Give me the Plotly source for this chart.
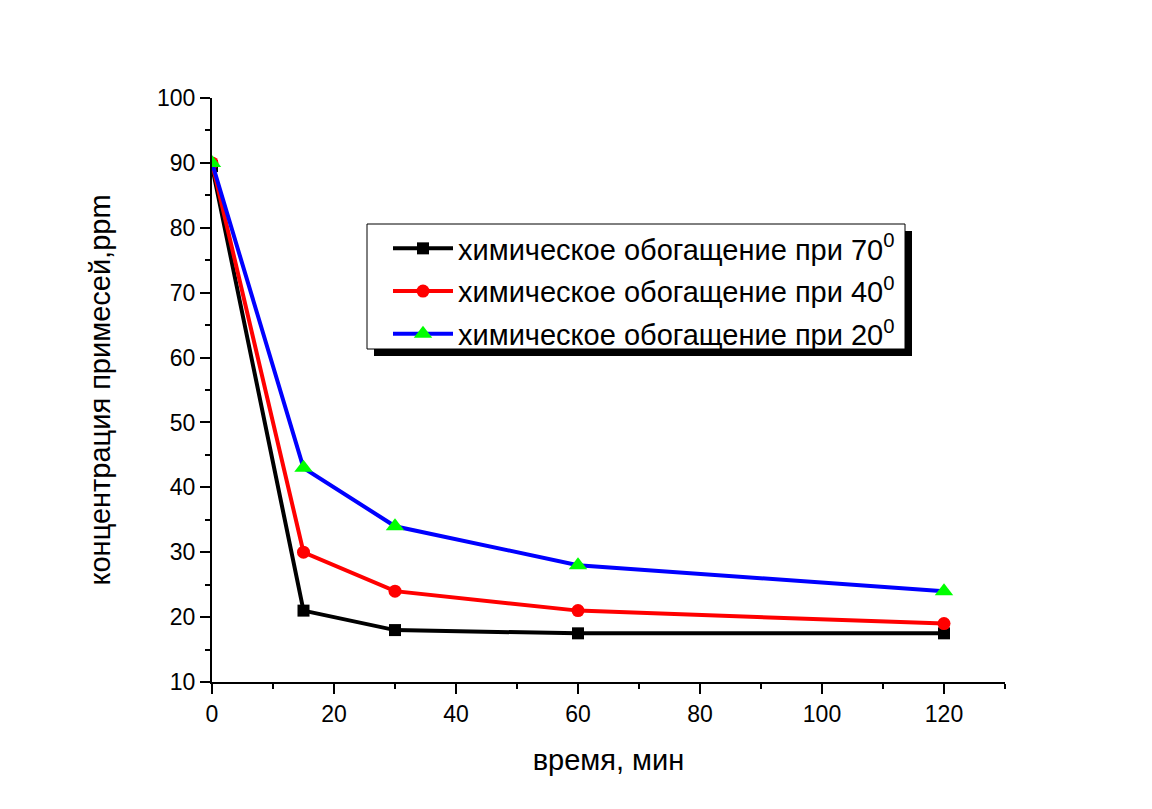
import plotly.graph_objects as go

time_min = [0, 15, 30, 60, 120]
conc_70 = [89.5, 21, 18, 17.5, 17.5]
conc_40 = [90, 30, 24, 21, 19]
conc_20 = [90, 43, 34, 28, 24]

x_ticks = [0, 20, 40, 60, 80, 100, 120]
y_ticks = [10, 20, 30, 40, 50, 60, 70, 80, 90, 100]

names = ["химическое обогащение при 70<sup>0</sup>",
         "химическое обогащение при 40<sup>0</sup>",
         "химическое обогащение при 20<sup>0</sup>"]

FONT = "Liberation Sans, Arial, sans-serif"

fig = go.Figure()
fig.add_trace(go.Scatter(x=time_min, y=conc_70, name=names[0], mode="lines+markers",
                         line=dict(color="black", width=4),
                         marker=dict(symbol="square", size=12, color="black"),
                         legendgroup="a"))
fig.add_trace(go.Scatter(x=time_min, y=conc_40, name=names[1], mode="lines+markers",
                         line=dict(color="#ff0000", width=4),
                         marker=dict(symbol="circle", size=13, color="#ff0000"),
                         legendgroup="b"))
fig.add_trace(go.Scatter(x=time_min, y=conc_20, name=names[2], mode="lines+markers",
                         line=dict(color="#0000ff", width=4),
                         marker=dict(symbol="triangle-up", size=16, color="#00ff00"),
                         legendgroup="c"))

# page has an 8px body margin; figure coordinates are offset by it
OFF = 8
W, H = 1144, 801
L, R, T, B = 204, 147, 90, 127
pw, ph = W - L - R, H - T - B

def px2paper(x, y):
    return (x - OFF - L) / pw, (H - B - (y - OFF)) / ph

x0, y0 = px2paper(367, 224)
x1, y1 = px2paper(905, 349)
sx0, sy0 = px2paper(374, 231)
sx1, sy1 = px2paper(912, 356)

fig.add_shape(type="rect", xref="paper", yref="paper", x0=sx0, y0=sy0, x1=sx1, y1=sy1,
              fillcolor="black", line=dict(width=0), layer="above")
fig.add_shape(type="rect", xref="paper", yref="paper", x0=x0, y0=y0, x1=x1, y1=y1,
              fillcolor="white", line=dict(color="black", width=1), layer="above")

lx, ly = px2paper(388, 223)

fig.update_layout(
    width=W, height=H,
    margin=dict(l=L, r=R, t=T, b=B, pad=0),
    paper_bgcolor="white", plot_bgcolor="white",
    font=dict(family=FONT, color="black"),
    showlegend=True,
    legend=dict(x=lx, y=ly, xanchor="left", yanchor="top",
                bgcolor="rgba(0,0,0,0)", borderwidth=0,
                font=dict(size=29, family=FONT), tracegroupgap=2,
                itemwidth=60),
    xaxis=dict(range=[0, 130], tickvals=x_ticks,
               showgrid=False, zeroline=False, showline=True, linecolor="black", linewidth=2,
               ticks="outside", ticklen=10, tickwidth=2, tickcolor="black",
               minor=dict(tickvals=[10, 30, 50, 70, 90, 110, 130], ticks="outside", ticklen=5,
                          tickwidth=2, tickcolor="black"),
               tickfont=dict(size=23),
               title=dict(text="время, мин", font=dict(size=29), standoff=24)),
    yaxis=dict(range=[10, 100], tickvals=y_ticks,
               showgrid=False, zeroline=False, showline=True, linecolor="black", linewidth=2,
               ticks="outside", ticklen=10, tickwidth=2, tickcolor="black",
               minor=dict(tickvals=[15, 25, 35, 45, 55, 65, 75, 85, 95], ticks="outside", ticklen=5,
                          tickwidth=2, tickcolor="black"),
               tickfont=dict(size=23),
               title=dict(text="концентрация примесей,ppm", font=dict(size=29), standoff=38)),
)

fig.write_html("out.html")
